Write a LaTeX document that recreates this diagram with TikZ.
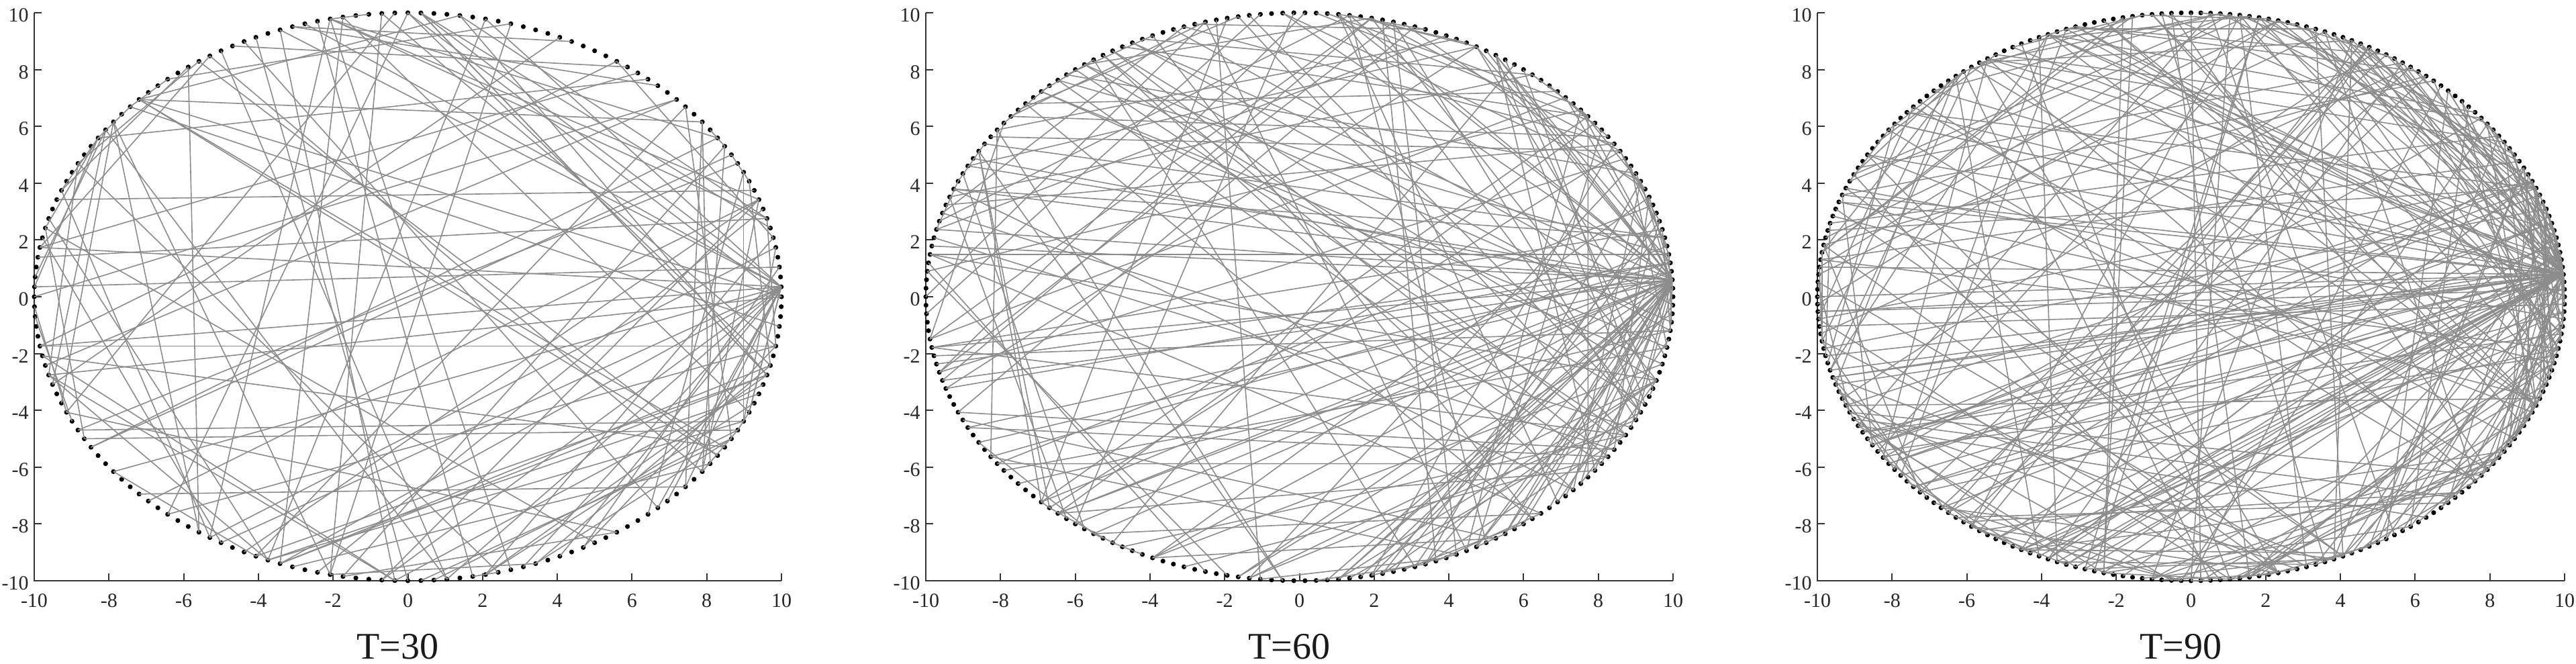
\documentclass[tikz,border=0pt]{standalone}
\usepackage{fontspec}
\setmainfont{Liberation Serif}
\definecolor{edgegray}{gray}{0.55}
\definecolor{axisgray}{gray}{0.2}
\definecolor{labgray}{gray}{0.15}
\tikzset{
  dotnode/.style={circle,fill=black,inner sep=0pt,minimum size=3.6pt},
  edgeline/.style={draw=edgegray,line width=0.8pt},
  axisline/.style={draw=axisgray,line width=1pt},
  ticklab/.style={font=\fontsize{15}{17}\selectfont,text=labgray,inner sep=0pt},
  titlelab/.style={font=\fontsize{28}{32}\selectfont,text=black!90,inner sep=0pt}
}
% #1 prefix, #2 shift x, #3 N, #4 title, #5 seed, #6 uniform edges, #7 hub edges, #8 hub index, #9 right-biased edges
\newcommand\netpanel[9]{%
\begin{scope}[shift={(#2,-221pt)},x=27.825pt,y=21.15pt]
  \draw[axisline] (-10,10) -- (-10,-10) -- (10,-10);
  \foreach \v in {-10,-8,...,10}{
    \draw[axisline] (-10,\v) -- ++(5.5pt,0);
    \draw[axisline] (\v,-10) -- ++(0,5.5pt);
    \node[ticklab,anchor=base east] (#1yl\v) at ([xshift=-4pt,yshift=-6.75pt]-10,\v) {\v};
    \node[ticklab,anchor=base] (#1xl\v) at ([yshift=-19.5pt]\v,-10) {\v};
  }
  \node[titlelab,anchor=base] (#1title) at ([xshift=-7.5pt,yshift=-58pt]0,-10) {#4};
  \pgfmathtruncatemacro\nlast{#3-1}
  \pgfmathsetmacro\dang{360/#3}
  \foreach \i in {0,...,\nlast}{
    \node[dotnode] (#1-\i) at ({10*cos(\i*\dang)},{10*sin(\i*\dang)}) {};
  }
  \pgfmathsetseed{#5}
  \foreach \k in {1,...,#6}{
    \pgfmathtruncatemacro\ea{random(0,#3-1)}
    \pgfmathtruncatemacro\eb{random(0,#3-1)}
    \draw[edgeline] (#1-\ea.center) -- (#1-\eb.center);
  }
  \foreach \k in {1,...,#7}{
    \pgfmathtruncatemacro\eb{random(0,#3-1)}
    \draw[edgeline] (#1-#8.center) -- (#1-\eb.center);
  }
  \foreach \k in {1,...,#9}{
    \pgfmathtruncatemacro\ea{mod(random(0,2*round(#3/9))-round(#3/9)+#3,#3)}
    \pgfmathtruncatemacro\eb{random(0,#3-1)}
    \draw[edgeline] (#1-\ea.center) -- (#1-\eb.center);
  }
\end{scope}}
\begin{document}
\begin{tikzpicture}
  \useasboundingbox (0,0) rectangle (1918.5pt,-494.5pt);
  \netpanel{a}{303.75pt}{180}{T=30}{31}{110}{15}{1}{20}
  \netpanel{b}{967.75pt}{210}{T=60}{61}{120}{35}{2}{55}
  \netpanel{c}{1631.75pt}{240}{T=90}{91}{190}{45}{3}{90}
\end{tikzpicture}
\end{document}
